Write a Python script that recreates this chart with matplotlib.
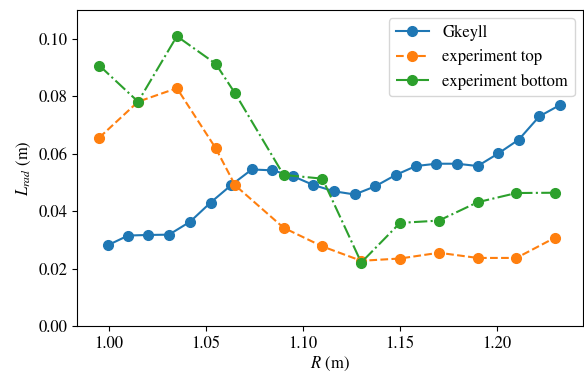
import matplotlib
matplotlib.use("Agg")
import matplotlib.pyplot as plt

plt.rcParams['font.family'] = 'STIXGeneral'
plt.rcParams['mathtext.fontset'] = 'stix'
plt.rcParams['font.size'] = 12

# Gkeyll radiation length along the major radius
R_gk = [0.9993, 1.0099, 1.0203, 1.0309, 1.0418, 1.0524, 1.0629, 1.0736,
        1.0842, 1.0947, 1.1053, 1.1160, 1.1266, 1.1371, 1.1478, 1.1582,
        1.1687, 1.1794, 1.1900, 1.2007, 1.2112, 1.2218, 1.2323]
L_gk = [0.0281, 0.0315, 0.0317, 0.0318, 0.0363, 0.0430, 0.0490, 0.0545,
        0.0542, 0.0522, 0.0491, 0.0469, 0.0458, 0.0486, 0.0526, 0.0557,
        0.0565, 0.0565, 0.0557, 0.0601, 0.0649, 0.0730, 0.0769]

# measured profiles
R_exp = [0.995, 1.015, 1.035, 1.055, 1.065, 1.09, 1.11, 1.13, 1.15, 1.17,
         1.19, 1.21, 1.23]
L_top = [0.0656, 0.0781, 0.0828, 0.0619, 0.0490, 0.0342, 0.0277, 0.0227,
         0.0235, 0.0255, 0.0237, 0.0237, 0.0308]
L_bot = [0.0907, 0.0781, 0.1009, 0.0913, 0.0810, 0.0526, 0.0513, 0.0221,
         0.0359, 0.0367, 0.0431, 0.0463, 0.0464]

fig = plt.figure(figsize=(5.84, 3.73), dpi=100)
ax = fig.add_axes([0.1318, 0.126, 0.8665, 0.847])

ax.plot(R_gk, L_gk, 'o-', ms=7, label='Gkeyll')
ax.plot(R_exp, L_top, 'o--', ms=7, label='experiment top')
ax.plot(R_exp, L_bot, 'o-.', ms=7, label='experiment bottom')

ax.set_xlim(0.9835, 1.2443)
ax.set_ylim(0, 0.110)
ax.set_xlabel('$R$ (m)', labelpad=2)
ax.set_ylabel('$L_{rad}$ (m)')
ax.legend(loc='upper right')

fig.savefig('out.png', dpi=100)
